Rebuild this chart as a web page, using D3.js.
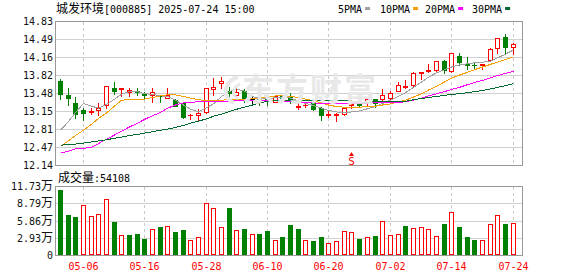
<!DOCTYPE html>
<html>
<head>
<meta charset="utf-8">
<script src="https://cdn.jsdelivr.net/npm/d3@7"></script>
<style>
  body { margin: 0; background: #fff; }
  text { white-space: pre; }
</style>
</head>
<body>
<div id="chart"></div>
<script>
// trading days shown (MM-DD)
const dates = ["04-28","04-29","04-30","05-06","05-07","05-08","05-09","05-12","05-13","05-14",
  "05-15","05-16","05-19","05-20","05-21","05-22","05-23","05-26","05-27","05-28",
  "05-29","05-30","06-03","06-04","06-05","06-06","06-09","06-10","06-11","06-12",
  "06-13","06-16","06-17","06-18","06-19","06-20","06-23","06-24","06-25","06-26",
  "06-27","06-30","07-01","07-02","07-03","07-04","07-07","07-08","07-09","07-10",
  "07-11","07-14","07-15","07-16","07-17","07-18","07-21","07-22","07-23","07-24"];

const open = [13.71,13.45,13.30,13.16,13.13,13.17,13.27,13.57,13.565,13.50,
  13.53,13.46,13.44,13.43,13.40,13.36,13.29,13.07,13.07,13.13,
  13.56,13.68,13.52,13.44,13.52,13.38,13.40,13.38,13.32,13.44,
  13.42,13.22,13.26,13.29,13.21,13.08,13.07,13.09,13.27,13.33,
  13.30,13.38,13.37,13.40,13.53,13.59,13.63,13.86,13.89,13.91,
  14.09,13.89,14.17,14.03,14.01,14.00,14.10,14.32,14.53,14.34];
const high = [13.76,13.60,13.42,13.22,13.23,13.32,13.63,13.71,13.59,13.59,
  13.60,13.52,13.60,13.47,13.59,13.40,13.32,13.12,13.21,13.60,
  13.79,13.81,13.62,13.58,13.58,13.43,13.45,13.42,13.47,13.47,
  13.50,13.33,13.32,13.33,13.24,13.17,13.13,13.22,13.37,13.35,
  13.43,13.40,13.58,13.54,13.70,13.74,13.89,13.89,14.04,14.11,
  14.12,14.25,14.26,14.17,14.08,14.05,14.35,14.53,14.61,14.44];
const low = [13.38,13.27,13.02,12.98,13.09,13.08,13.21,13.47,13.43,13.43,
  13.45,13.40,13.32,13.32,13.39,13.24,13.01,12.99,12.98,13.12,
  13.45,13.58,13.33,13.40,13.32,13.30,13.27,13.27,13.31,13.37,
  13.30,13.19,13.22,13.17,12.98,13.03,12.96,13.08,13.21,13.25,
  13.24,13.23,13.33,13.32,13.52,13.57,13.61,13.75,13.88,13.89,
  13.85,13.875,14.01,13.93,13.93,13.93,14.09,14.24,14.21,14.21];
const close = [13.47,13.39,13.09,13.11,13.14,13.21,13.61,13.52,13.58,13.54,
  13.50,13.45,13.51,13.42,13.44,13.25,13.03,13.08,13.12,13.58,
  13.60,13.71,13.48,13.51,13.36,13.38,13.37,13.33,13.43,13.40,
  13.33,13.235,13.27,13.19,13.07,13.09,13.10,13.21,13.28,13.27,
  13.37,13.29,13.45,13.49,13.64,13.62,13.86,13.875,13.92,14.09,
  13.92,14.24,14.07,14.005,14.00,14.02,14.30,14.51,14.35,14.40];

const volume = [109800,68100,64700,84700,65800,69200,95600,56100,33200,33800,
  35500,26900,43500,47500,48600,38900,42300,26300,29800,88100,
  80100,47500,80100,41800,44100,34900,35500,40600,26300,30300,
  50900,44100,26300,23500,30300,21200,24600,40100,38300,26900,
  29800,32000,57200,33200,34900,49200,45200,46900,43500,31500,
  52600,72700,47500,30300,25200,26300,52100,67500,52600,54108];

const ma5 = [12.80,12.96,13.13,13.30,13.25,13.21,13.28,13.38,13.47,13.52,
  13.52,13.48,13.47,13.44,13.43,13.36,13.27,13.19,13.14,13.22,
  13.29,13.43,13.52,13.57,13.53,13.43,13.39,13.38,13.41,13.42,
  13.40,13.35,13.30,13.26,13.21,13.17,13.14,13.13,13.14,13.16,
  13.20,13.24,13.30,13.36,13.43,13.50,13.60,13.70,13.79,13.87,
  13.93,13.98,14.02,14.04,14.06,14.07,14.09,14.15,14.22,14.30];
const ma10 = [12.50,12.60,12.70,12.80,12.91,13.02,13.12,13.25,13.36,13.37,
  13.37,13.38,13.41,13.44,13.46,13.46,13.43,13.40,13.37,13.35,
  13.35,13.36,13.37,13.38,13.38,13.39,13.40,13.42,13.44,13.44,
  13.43,13.41,13.38,13.35,13.31,13.27,13.24,13.23,13.22,13.23,
  13.24,13.25,13.27,13.29,13.33,13.36,13.42,13.48,13.55,13.62,
  13.70,13.77,13.83,13.88,13.93,13.98,14.03,14.07,14.12,14.17];
const ma20 = [12.37,12.41,12.45,12.46,12.48,12.55,12.63,12.71,12.78,12.86,
  12.93,13.00,13.07,13.13,13.21,13.27,13.31,13.32,13.33,13.33,
  13.34,13.34,13.34,13.35,13.35,13.35,13.35,13.35,13.35,13.34,
  13.34,13.33,13.32,13.31,13.30,13.29,13.29,13.29,13.30,13.30,
  13.31,13.31,13.31,13.31,13.32,13.33,13.36,13.40,13.44,13.48,
  13.52,13.56,13.60,13.65,13.69,13.73,13.78,13.82,13.86,13.90];
const ma30 = [12.52,12.53,12.54,12.56,12.58,12.60,12.62,12.65,12.67,12.70,
  12.72,12.745,12.77,12.80,12.82,12.85,12.89,12.93,12.97,13.01,
  13.06,13.10,13.15,13.19,13.23,13.27,13.31,13.34,13.355,13.36,
  13.36,13.36,13.36,13.36,13.355,13.35,13.35,13.345,13.345,13.34,
  13.34,13.34,13.335,13.33,13.33,13.34,13.37,13.39,13.41,13.43,
  13.45,13.47,13.48,13.50,13.52,13.54,13.57,13.60,13.63,13.67];

const maNames = ["5PMA", "10PMA", "20PMA", "30PMA"];
const priceTicks = ["12.14","12.47","12.81","13.15","13.48","13.82","14.16","14.49","14.83"];
const volTicks = [0, 29300, 58600, 87900, 117300];
const volTickLabels = ["0", "2.93万", "5.86万", "8.79万", "11.73万"];
const dateTicks = ["05-06","05-16","05-28","06-10","06-20","07-02","07-14","07-24"];
const signalDates = ["06-25"];
const title = "城发环境[000885] 2025-07-24 15:00";

// ---- layout
const W = 578, H = 276;
const left = 55.5, right = 522.5;
const mainTop = 21.5, mainBot = 165.5, volTop = 186.5, volBot = 255.5;
const RED = "#ff0000", GREEN = "#008000";
const maColors = ["#a0a0a0", "#f5a000", "#ff00ff", "#006a30"];

const svg = d3.select("#chart").append("svg")
  .attr("width", W).attr("height", H)
  .style("font-family", "'DejaVu Sans Mono', monospace");

const x = d3.scaleBand().domain(dates).range([56, 56 + dates.length * 7.675]);
const cx = d => Math.round(x(d) + x.bandwidth() / 2) + 0.5;

const y = d3.scaleLinear().domain([12.14, 14.83]).range([mainBot, mainTop]);
const yv = d3.scaleLinear().domain([0, 117300]).range([volBot, volTop]);
const py = v => Math.round(y(v) - 0.5) + 0.5;

// text with CJK runs in a CJK font and ascii runs in a 6px-wide mono font
function mixText(g, str, tx, ty, anchor, color) {
  const t = g.append("text").attr("x", tx).attr("y", ty)
    .attr("text-anchor", anchor).attr("fill", color);
  str.match(/[\u3000-\u9fff]+|[^\u3000-\u9fff]+/g).forEach(run => {
    const cjk = /[\u3000-\u9fff]/.test(run);
    t.append("tspan")
      .attr("font-family", cjk ? "'Noto Sans CJK SC'" : "'DejaVu Sans Mono'")
      .attr("font-size", cjk ? 12 : 10)
      .text(run);
  });
  return t;
}

// title + legend
mixText(svg, title, 56, 12.5, "start", "#000");
const legX = [338, 380, 425, 472];
maNames.forEach((n, k) => {
  const t = svg.append("text").attr("x", legX[k]).attr("y", 12.5)
    .attr("font-size", 10).attr("fill", "#000").text(n);
  const w = t.node().getComputedTextLength();
  svg.append("rect").attr("x", legX[k] + w + 3).attr("y", 7)
    .attr("width", 5).attr("height", 3).attr("fill", maColors[k]);
});

const g = svg.append("g").attr("shape-rendering", "crispEdges");

// grid lines
function hGrid(vals, scale) {
  g.append("g").selectAll("line").data(vals).join("line")
    .attr("x1", left).attr("x2", right)
    .attr("y1", d => Math.round(scale(d) - 0.5) + 0.5)
    .attr("y2", d => Math.round(scale(d) - 0.5) + 0.5)
    .attr("stroke", "#d0d0d0");
}
hGrid(priceTicks.map(Number).slice(1, -1), y);
hGrid(volTicks.slice(1, -1), yv);

[[mainTop, mainBot], [volTop, volBot]].forEach(([t, b]) => {
  g.append("g").selectAll("line").data(dateTicks).join("line")
    .attr("x1", d => cx(d)).attr("x2", d => cx(d))
    .attr("y1", t).attr("y2", b)
    .attr("stroke", "#c8c8c8").attr("stroke-dasharray", "3,3");
});

// watermark
const wm = svg.append("g").attr("fill", "none").attr("stroke", "#e8e8e8");
wm.append("path").attr("d", "M238,77 C224,81 221,97 234,103").attr("stroke-width", 4);
wm.append("path").attr("d", "M240,84 C232,88 232,95 238,99").attr("stroke-width", 3);
svg.append("text").attr("x", 242).attr("y", 101)
  .attr("font-family", "'Noto Sans CJK SC'").attr("font-size", 32).attr("font-weight", 700)
  .attr("fill", "#e8e8e8").attr("letter-spacing", 2).text("东方财富");

// frames
[[mainTop, mainBot], [volTop, volBot]].forEach(([t, b]) => {
  g.append("rect").attr("x", left).attr("y", t)
    .attr("width", right - left).attr("height", b - t)
    .attr("fill", "none").attr("stroke", "#999");
});

// y tick labels
svg.append("g").selectAll("text").data(priceTicks).join("text")
  .attr("x", 53).attr("y", d => y(+d) + 3.5)
  .attr("text-anchor", "end").attr("font-size", 10).attr("fill", "#111")
  .text(d => d);
volTicks.forEach((v, k) => mixText(svg, volTickLabels[k], 53, yv(v) + 3.5, "end", "#111"));

// x tick labels
svg.append("g").selectAll("text").data(dateTicks).join("text")
  .attr("x", d => cx(d)).attr("y", 269.5)
  .attr("text-anchor", "middle").attr("font-size", 10).attr("fill", RED)
  .text(d => d);

// volume label
mixText(svg, "成交量:" + volume[volume.length - 1], 58, 182, "start", "#000");

// candles
const idx = d3.range(dates.length);
const candleColor = i => close[i] > open[i] ? RED : close[i] < open[i] ? GREEN : "#000";
const cg = g.append("g");
cg.selectAll("line").data(idx).join("line")
  .attr("x1", i => cx(dates[i])).attr("x2", i => cx(dates[i]))
  .attr("y1", i => py(high[i])).attr("y2", i => py(low[i]))
  .attr("stroke", candleColor);
idx.forEach(i => {
  const c = cx(dates[i]);
  const top = py(Math.max(open[i], close[i])), bot = py(Math.min(open[i], close[i]));
  const col = candleColor(i);
  if (bot - top < 2) {
    cg.append("rect").attr("x", c - 2.5).attr("y", top - 0.5)
      .attr("width", 5).attr("height", Math.max(bot - top, 0) + 1).attr("fill", col);
  } else if (col === RED) {
    cg.append("rect").attr("x", c - 2).attr("y", top)
      .attr("width", 4).attr("height", bot - top)
      .attr("fill", "#fff").attr("stroke", RED);
  } else {
    cg.append("rect").attr("x", c - 2.5).attr("y", top - 0.5)
      .attr("width", 5).attr("height", bot - top + 1).attr("fill", col);
  }
});

// moving averages
[ma5, ma10, ma20, ma30].forEach((arr, k) => {
  g.append("path").datum(arr)
    .attr("d", d3.line().x((v, i) => cx(dates[i])).y(v => y(v)))
    .attr("fill", "none").attr("stroke", maColors[k]).attr("stroke-width", 1);
});

// signal marker
signalDates.forEach(d => {
  const c = cx(d);
  svg.append("path").attr("d", `M${c - 2.5},156 L${c},152 L${c + 2.5},156 Z`).attr("fill", RED);
  svg.append("text").attr("x", c).attr("y", 164.5).attr("text-anchor", "middle")
    .attr("font-size", 11).attr("fill", RED).text("S");
});

// volume bars
const up = i => i === 0 ? close[i] >= open[i] : close[i] >= close[i - 1];
idx.forEach(i => {
  const c = cx(dates[i]);
  const t = Math.round(yv(volume[i]) - 0.5) + 0.5;
  if (up(i)) {
    g.append("rect").attr("x", c - 2).attr("y", t)
      .attr("width", 4).attr("height", volBot - 1 - t)
      .attr("fill", "#fff").attr("stroke", RED);
  } else {
    g.append("rect").attr("x", c - 2.5).attr("y", t - 0.5)
      .attr("width", 5).attr("height", volBot - t)
      .attr("fill", GREEN);
  }
});
</script>
</body>
</html>
